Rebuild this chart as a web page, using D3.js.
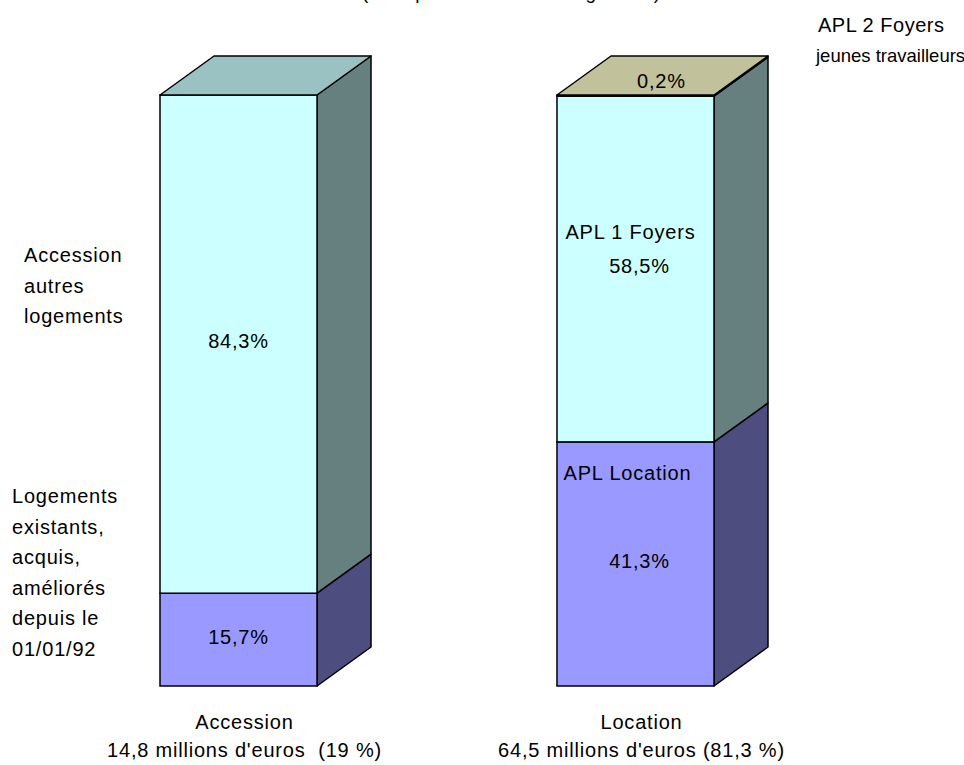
<!DOCTYPE html>
<html lang="fr">
<head>
    <meta charset="UTF-8">
    <title>Répartition des aides</title>
    <style>
        body { margin: 0; background: #fff; }
        text {
            font-family: Arial, "Liberation Sans", sans-serif;
            font-size: 20px;
            letter-spacing: 0.8px;
            fill: #000;
            white-space: pre;
        }
    </style>
</head>
<body>
    <script src="https://d3js.org/d3.v7.min.js"></script>
    <script>
        // categories and their captions
        const categories = ["Accession", "Location"];
        const captions = ["14,8 millions d'euros  (19 %)", "64,5 millions d'euros (81,3 %)"];

        // stacked series, bottom to top (% of each bar)
        const seriesNames = ["bas", "milieu", "haut"];
        const serieBas = [15.7, 41.3];
        const serieMilieu = [84.3, 58.5];
        const serieHaut = [0, 0.2];
        const seriesValues = [serieBas, serieMilieu, serieHaut];

        // value labels drawn inside segments
        const valueLabels = [["15,7%", "41,3%"], ["84,3%", "58,5%"], ["", "0,2%"]];

        const width = 964;
        const height = 765;

        // front / side / top shades of each series
        const colors = {
            bas:    { front: "#9999ff", side: "#4d4d80", top: "#7474c2" },
            milieu: { front: "#ccffff", side: "#668080", top: "#9bc2c2" },
            haut:   { front: "#ffffcc", side: "#808066", top: "#c1c19b" }
        };

        const depthX = 54, depthY = -39;

        const x = d3.scaleBand()
            .domain(categories)
            .range([160, 714])
            .paddingInner(0.6045);

        const y = d3.scaleLinear()
            .domain([0, 100])
            .range([686, 95]);

        const svg = d3.select("body").append("svg")
            .attr("width", width)
            .attr("height", height);

        // stacked layout
        const rows = categories.map((c, i) => {
            const r = { cat: c };
            seriesNames.forEach((s, k) => r[s] = seriesValues[k][i]);
            return r;
        });
        const stacked = d3.stack().keys(seriesNames)(rows);

        const bw = x.bandwidth();

        categories.forEach((cat, i) => {
            const g = svg.append("g");
            const x0 = x(cat), x1 = x0 + bw;

            stacked.forEach(layer => {
                const d = layer[i];
                const key = layer.key;
                if (d[1] - d[0] <= 0) return;
                const yb = y(d[0]), yt = y(d[1]);

                g.append("path")
                    .attr("d", `M${x1},${yb}L${x1 + depthX},${yb + depthY}L${x1 + depthX},${yt + depthY}L${x1},${yt}Z`)
                    .attr("fill", colors[key].side)
                    .attr("stroke", "#000")
                    .attr("stroke-width", 1.5)
                    .attr("stroke-linejoin", "round");

                g.append("rect")
                    .attr("x", x0)
                    .attr("y", yt)
                    .attr("width", bw)
                    .attr("height", yb - yt)
                    .attr("fill", colors[key].front)
                    .attr("stroke", "#000")
                    .attr("stroke-width", 1.5);
            });

            // top face takes the colour of the highest non-empty segment
            const topLayer = stacked.filter(l => l[i][1] - l[i][0] > 0).pop();
            const yt = y(topLayer[i][1]);
            g.append("path")
                .attr("d", `M${x0},${yt}L${x0 + depthX},${yt + depthY}L${x1 + depthX},${yt + depthY}L${x1},${yt}Z`)
                .attr("fill", colors[topLayer.key].top)
                .attr("stroke", "#000")
                .attr("stroke-width", 1.5)
                .attr("stroke-linejoin", "round");

            // value labels
            stacked.forEach((layer, k) => {
                const d = layer[i];
                const label = valueLabels[k][i];
                if (!label) return;
                let cx = x0 + bw / 2 + (i === 1 ? 4 : 0);
                let cy = y((d[0] + d[1]) / 2) - 1;
                if (d[1] - d[0] < 2) {
                    // tiny segment: label on top face
                    cx = x0 + bw / 2 + depthX / 2 - 1;
                    cy = y(d[1]) + depthY / 2 + 7;
                }
                svg.append("text")
                    .attr("x", cx)
                    .attr("y", cy)
                    .attr("text-anchor", "middle")
                    .attr("dominant-baseline", "middle")
                    .text(label);
            });

            // captions under bars
            svg.append("text")
                .attr("x", x0 + bw / 2 + 6)
                .attr("y", 729)
                .attr("text-anchor", "middle")
                .text(cat);
            svg.append("text")
                .attr("x", x0 + bw / 2 + 6)
                .attr("y", 757)
                .attr("text-anchor", "middle")
                .text(captions[i]);
        });

        // multi-line annotations
        function lines(xp, y0, arr, step) {
            const t = svg.append("text").attr("x", xp).attr("y", y0);
            arr.forEach((s, j) => t.append("tspan").attr("x", xp).attr("y", y0 + j * step).text(s));
            return t;
        }

        lines(24, 262, ["Accession", "autres", "logements"], 30.5);
        lines(12, 503, ["Logements", "existants,", "acquis,", "améliorés", "depuis le", "01/01/92"], 30.5);
        const apl2 = lines(818, 32, ["APL 2 Foyers", "jeunes travailleurs"], 30)
            .style("letter-spacing", "0.5px");
        // smaller second line so it stays inside the picture
        apl2.select("tspan:nth-child(2)")
            .attr("x", 816)
            .style("font-size", "18.5px")
            .style("letter-spacing", "0px");

        // series names inside the Location bar
        const xl = x("Location") + bw / 2;
        svg.append("text").attr("x", xl - 5).attr("y", y(99.8) + 143)
            .attr("text-anchor", "middle").text("APL 1 Foyers");
        svg.append("text").attr("x", xl - 8).attr("y", y(41.3) + 38)
            .attr("text-anchor", "middle").text("APL Location");

        // title, mostly cut off at the top of the picture as in the source
        svg.append("text")
            .attr("x", 362)
            .attr("y", -1)
            .style("font-size", "19px")
            .text("(hors primes de déménagement)");
    </script>
</body>
</html>
